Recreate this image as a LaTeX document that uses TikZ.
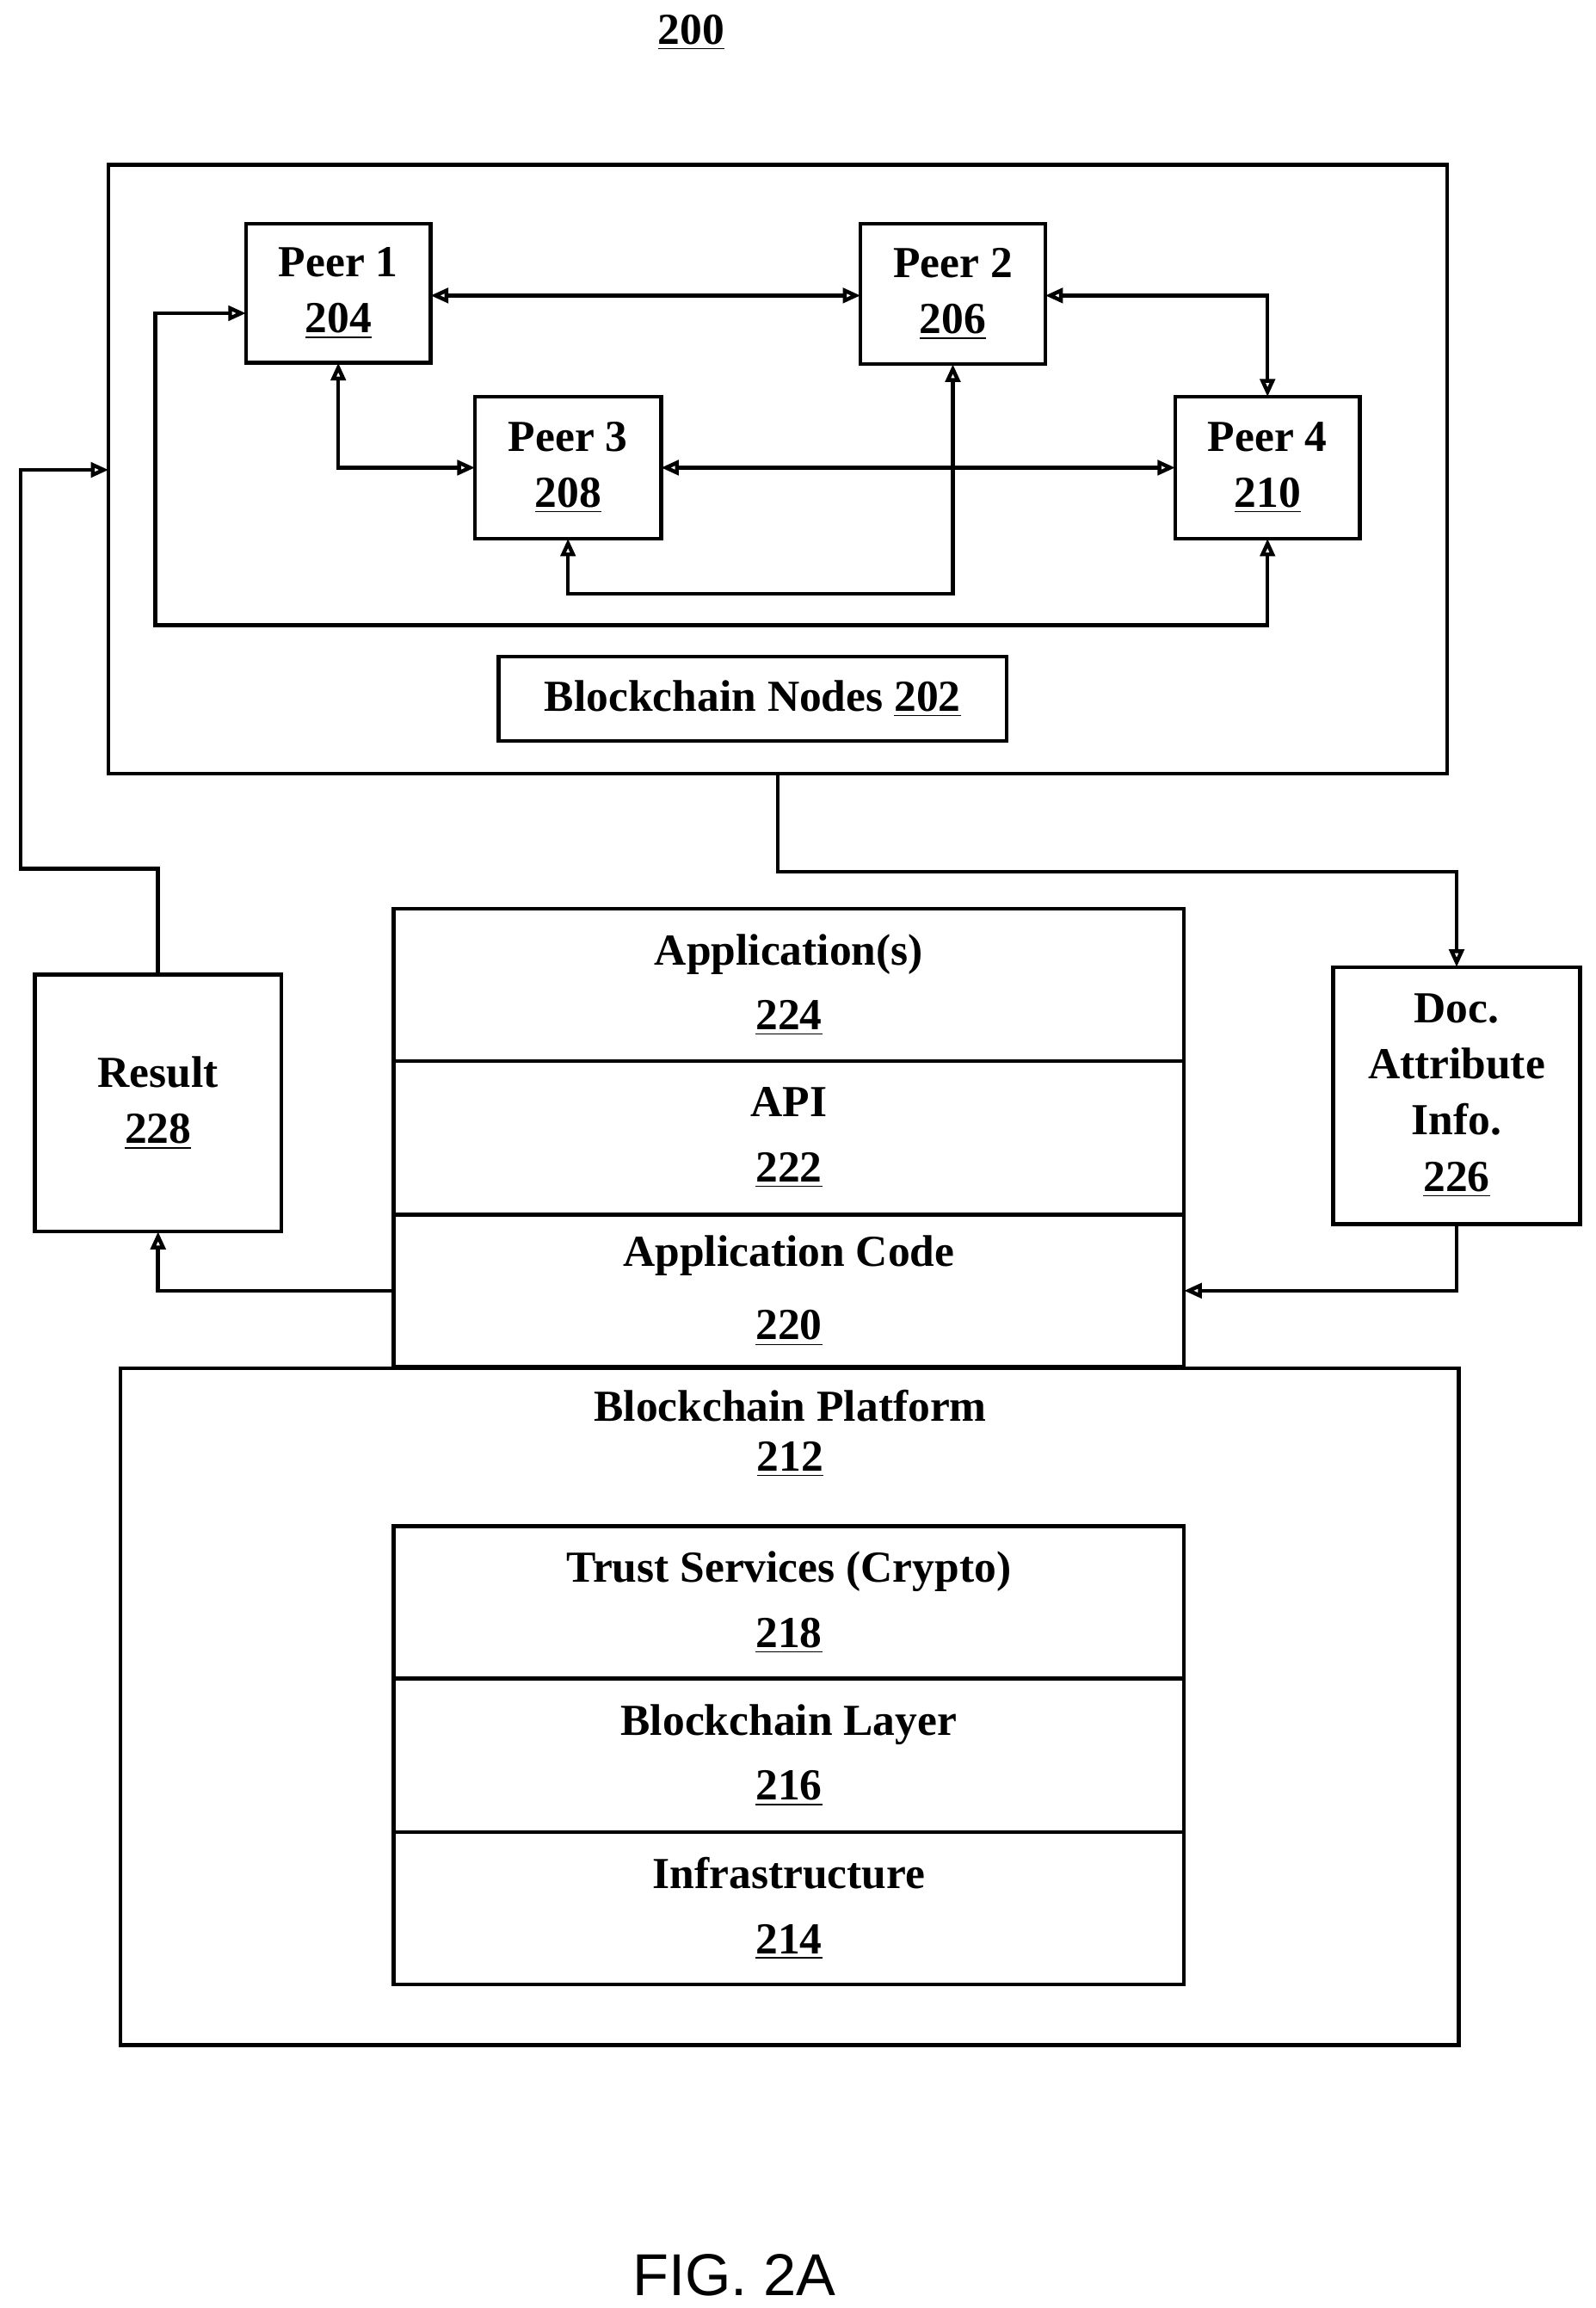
\documentclass[tikz,border=0pt]{standalone}
\usepackage{fontspec}
\setmainfont{Liberation Serif}
\newfontfamily\figfont{Liberation Sans}
\usetikzlibrary{arrows.meta}
\begin{document}
\begin{tikzpicture}[x=0.5pt,y=-0.5pt,
  every node/.style={font=\fontsize{15}{19}\selectfont\bfseries, align=center},
  box/.style={draw, line width=1.3pt, inner sep=0pt, outer sep=0pt},
  ln/.style={line width=1.3pt},
  ar/.style={ln, -{Triangle[open,length=6pt,width=5pt]}},
  dar/.style={ln, {Triangle[open,length=6pt,width=5pt]}-{Triangle[open,length=6pt,width=5pt]}}]
\useasboundingbox (0,0) rectangle (1080,1562);
\node (t200) at (468,22) {\underline{200}};
% outer nodes box
\node[box, minimum width=453pt, minimum height=206pt] (bn) at (526.5,317.5) {};
\node[box, minimum width=62.5pt, minimum height=47pt] (p1) at (229,198.5) {Peer 1\\\underline{204}};
\node[box, minimum width=62.5pt, minimum height=47.5pt] (p2) at (645,199) {Peer 2\\\underline{206}};
\node[box, minimum width=63pt, minimum height=48pt] (p3) at (384.5,316.5) {Peer 3\\\underline{208}};
\node[box, minimum width=62.5pt, minimum height=48pt] (p4) at (858,316.5) {Peer 4\\\underline{210}};
\node[box, minimum width=172pt, minimum height=28.5pt] (b202) at (509.5,473) {Blockchain Nodes \underline{202}};
\draw[dar] (p1.east |- 0,200) -- (p2.west |- 0,200);
\draw[dar] (p2.east |- 0,200) -| (p4.north);
\draw[dar] (p1.south) |- (p3.west);
\draw[dar] (p3.east) -- (p4.west);
\coordinate (lp) at (105,212);
\draw[dar] (p4.south) |- (105,423) -- (lp) -- (p1.west |- lp);
\draw[dar] (p3.south) |- (645,402) -- (p2.south);
% result & doc
\node[box, minimum width=83.5pt, minimum height=87pt] (res) at (107,746.5) {Result\\\underline{228}};
\node[box, minimum width=83.5pt, minimum height=87pt] (doc) at (986,741.5) {Doc.\\Attribute\\Info.\\\underline{226}};
\draw[ar] (res.north) |- (14,588) |- (bn.west |- 0,318);
\draw[ar] (bn.south) |- (986,590) -- (doc.north);
% stack
\node[box, minimum width=267.5pt, minimum height=51.5pt] (app) at (534,666.5) {Application(s)\\[3pt]\underline{224}};
\node[box, minimum width=267.5pt, minimum height=52pt] (api) at (534,770) {API\\[3pt]\underline{222}};
\node[box, minimum width=267.5pt, minimum height=51.5pt] (code) at (534,873.5) {Application Code\\[6pt]\underline{220}};
\draw[ar] (code.west) -| (res.south);
\draw[ar] (doc.south) |- (code.east);
% platform
\node[box, minimum width=453pt, minimum height=229pt] (plat) at (534.5,1155) {};
\node (ptxt) at (535,970) {Blockchain Platform\\[-2pt]\underline{212}};
\node[box, minimum width=267.5pt, minimum height=51.5pt] (trust) at (534,1084.5) {Trust Services (Crypto)\\[3pt]\underline{218}};
\node[box, minimum width=267.5pt, minimum height=52pt] (bl) at (534,1188) {Blockchain Layer\\[3pt]\underline{216}};
\node[box, minimum width=267.5pt, minimum height=51.5pt] (inf) at (534,1291.5) {Infrastructure\\[3pt]\underline{214}};
\node[font=\fontsize{20}{24}\selectfont\figfont] (fig) at (497,1540) {FIG. 2A};
\end{tikzpicture}
\end{document}
